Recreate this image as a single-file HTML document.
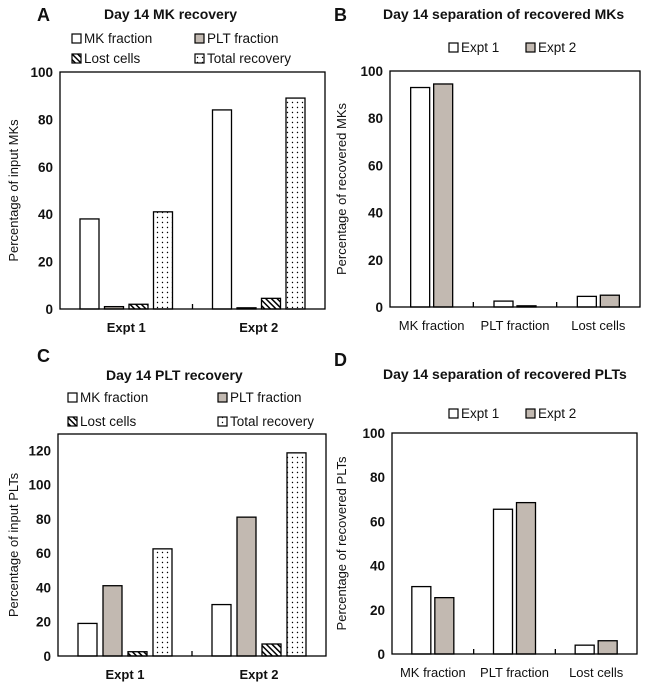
<!DOCTYPE html>
<html><head><meta charset="utf-8">
<style>
html,body{margin:0;padding:0;background:#fff;}
svg{display:block;font-family:"Liberation Sans",sans-serif;}
</style></head>
<body>
<svg id="fig" width="645" height="691" viewBox="0 0 645 691">
<defs>
<pattern id="dots" width="5" height="5" patternUnits="userSpaceOnUse"><rect width="5" height="5" fill="#fff"/><circle cx="2.5" cy="2.5" r="0.7" fill="#000"/></pattern>
<pattern id="hatch" width="4" height="4" patternUnits="userSpaceOnUse" patternTransform="rotate(-45)"><rect width="4" height="4" fill="#fff"/><rect width="1.5" height="4" fill="#000"/></pattern>
</defs>
</svg>
<script>
// Panel A data
const aCats = ["Expt 1","Expt 2"];
const aSeriesNames = ["MK fraction","PLT fraction","Lost cells","Total recovery"];
const aMK = [38, 84];
const aPLT = [1, 0.5];
const aLost = [2, 4.5];
const aTotal = [41, 89];
const aTicks = [0,20,40,60,80,100];
// Panel B data
const bCats = ["MK fraction","PLT fraction","Lost cells"];
const bExpt1 = [93, 2.5, 4.5];
const bExpt2 = [94.5, 0.5, 5];
const bTicks = [0,20,40,60,80,100];
// Panel C data
const cCats = ["Expt 1","Expt 2"];
const cMK = [19, 30];
const cPLT = [41, 81];
const cLost = [2.5, 7];
const cTotal = [62.5, 118.5];
const cTicks = [0,20,40,60,80,100,120];
// Panel D data
const dCats = ["MK fraction","PLT fraction","Lost cells"];
const dExpt1 = [30.5, 65.5, 4];
const dExpt2 = [25.5, 68.5, 6];
const dTicks = [0,20,40,60,80,100];

const NS="http://www.w3.org/2000/svg";
const svg=document.getElementById('fig');
const GREY="#c2b9b1";
const fills4=["#fff",GREY,"url(#hatch)","url(#dots)"];
const fills2=["#fff",GREY];

function mk(tag,attrs,parent){const e=document.createElementNS(NS,tag);for(const k in attrs)e.setAttribute(k,attrs[k]);(parent||svg).appendChild(e);return e;}
function txt(s,x,y,size,bold,anchor,parent){const t=mk('text',{x:x,y:y,'font-size':size,'font-weight':bold?'bold':'normal','text-anchor':anchor||'start',fill:'#111'},parent);t.textContent=s;return t;}

function panel(o){
  const g=mk('g',{});
  
  
  const x0=o.x0,x1=o.x1,yT=o.yT,yB=o.yB,max=o.max;
  const yS=v=>yB-(v/max)*(yB-yT);
  const catW=(x1-x0)/o.cats.length;
  const xC=i=>x0+catW*(i+0.5);
  o.series.forEach((ser,si)=>{
    ser.forEach((v,ci)=>{
      const cx=xC(ci)+(si-(o.series.length-1)/2)*o.step;
      const r=mk('rect',{x:cx-o.bw/2,y:yS(v),width:o.bw,height:yB-yS(v),fill:o.fills[si],stroke:'#000','stroke-width':1.3},g);
      
      
    });
  });
  const f=mk('rect',{x:x0,y:yT,width:x1-x0,height:yB-yT,fill:'none',stroke:'#000','stroke-width':1.3},g);
  
  
  for(let i=1;i<o.cats.length;i++){mk('line',{x1:x0+catW*i,x2:x0+catW*i,y1:yB,y2:yB-5,stroke:'#000','stroke-width':1.3},g);}
  o.ticks.forEach(t=>{
    const l=txt(String(t),x0-7,yS(t)+5,13.5,true,'end',g);
    
    
  });
  o.cats.forEach((c,i)=>{
    const l=txt(c,xC(i),yB+23,13,o.catBold,'middle',g);
    
    
  });
  const yl=txt(o.ylabel,0,0,13,false,'middle',g);
  yl.setAttribute('transform','translate('+o.ylx+','+((yT+yB)/2)+') rotate(-90)');
  
  
  const tt=txt(o.title,o.tx,o.ty,14,true,'start',g);
  
  
  const pl=txt(o.letter,o.lx,o.ly,18,true,'start',g);
  
  
  o.legend.forEach((L,i)=>{
    const lg=mk('g',{},g);
    
    
    mk('rect',{x:L[0],y:L[1]-9,width:9,height:9,fill:o.fills[i],stroke:'#000','stroke-width':1.2},lg);
    txt(o.snames[i],L[0]+12,L[1],13.5,false,'start',lg);
  });
}

panel({name:'panel-a-mk-recovery',x0:60,x1:325,yT:72,yB:309,max:100,cats:aCats,series:[aMK,aPLT,aLost,aTotal],snames:aSeriesNames,fills:fills4,step:24.5,bw:19,ticks:aTicks,catBold:true,ylabel:'Percentage of input MKs',ylx:18,title:'Day 14 MK recovery',tx:104,ty:19,letter:'A',lx:37,ly:21,legend:[[72,43],[195,43],[72,63],[195,63]]});
panel({name:'panel-b-mk-separation',x0:390,x1:640,yT:71,yB:307,max:100,cats:bCats,series:[bExpt1,bExpt2],snames:['Expt 1','Expt 2'],fills:fills2,step:23,bw:19,ticks:bTicks,catBold:false,ylabel:'Percentage of recovered MKs',ylx:346,title:'Day 14 separation of recovered MKs',tx:383,ty:19,letter:'B',lx:334,ly:21,legend:[[449,52],[526,52]]});
panel({name:'panel-c-plt-recovery',x0:58,x1:326,yT:434,yB:656,max:129.5,cats:cCats,series:[cMK,cPLT,cLost,cTotal],snames:aSeriesNames,fills:fills4,step:25,bw:19,ticks:cTicks,catBold:true,ylabel:'Percentage of input PLTs',ylx:18,title:'Day 14 PLT recovery',tx:106,ty:380,letter:'C',lx:37,ly:362,legend:[[68,402],[218,402],[68,426],[218,426]]});
panel({name:'panel-d-plt-separation',x0:392,x1:637,yT:433,yB:654,max:100,cats:dCats,series:[dExpt1,dExpt2],snames:['Expt 1','Expt 2'],fills:fills2,step:23,bw:19,ticks:dTicks,catBold:false,ylabel:'Percentage of recovered PLTs',ylx:346,title:'Day 14 separation of recovered PLTs',tx:383,ty:379,letter:'D',lx:334,ly:366,legend:[[449,418],[526,418]]});
</script>
</body></html>
